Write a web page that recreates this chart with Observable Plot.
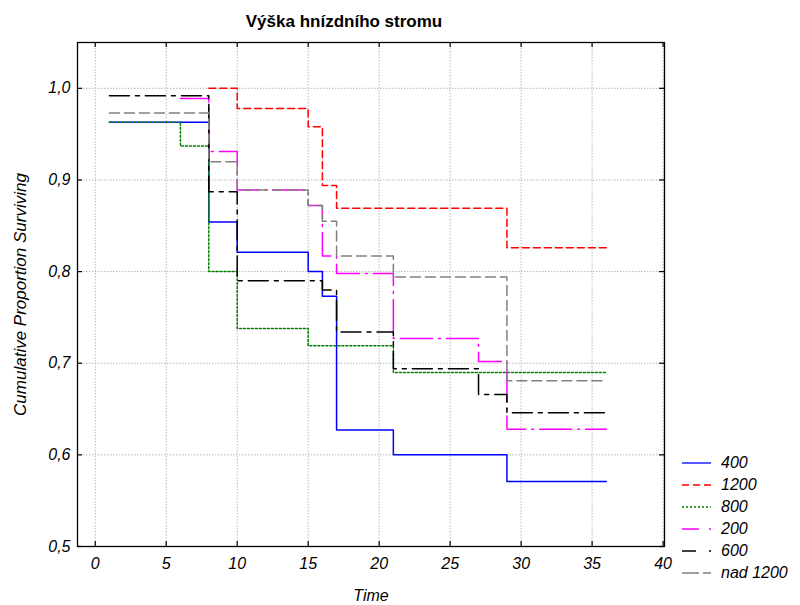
<!DOCTYPE html>
<html>
<head>
<meta charset="utf-8">
<script src="https://cdn.jsdelivr.net/npm/d3@7"></script>
<script src="https://cdn.jsdelivr.net/npm/@observablehq/plot@0.6"></script>
<style>
  body { margin: 0; background: #fff; }
  #wrap { position: relative; width: 800px; height: 605px; font-family: "Liberation Sans", Arial, sans-serif; }
  #legend { position: absolute; left: 682px; top: 452px; }
  .row { display: flex; align-items: center; height: 22px; }
  .row span { font-size: 16px; font-style: italic; margin-left: 9px; color: #000; }
</style>
</head>
<body>
<div id="wrap"><div id="chart"></div><div id="legend"></div></div>
<script>
// ---- data ----
const seriesNames = ["400", "1200", "800", "200", "600", "nad 1200"];
const times400 = [1, 8, 10, 15, 16, 17, 21, 29, 36];
const surv400  = [0.963, 0.854, 0.821, 0.800, 0.773, 0.627, 0.600, 0.571, 0.571];
const times1200 = [8, 10, 15, 16, 17, 29, 36];
const surv1200  = [1.000, 0.978, 0.958, 0.894, 0.869, 0.826, 0.826];
const times800 = [1, 6, 8, 10, 15, 21, 36];
const surv800  = [0.963, 0.937, 0.800, 0.738, 0.719, 0.690, 0.690];
const times200 = [6, 8, 10, 15, 16, 17, 21, 27, 29, 36];
const surv200  = [0.989, 0.931, 0.889, 0.872, 0.817, 0.798, 0.727, 0.702, 0.628, 0.628];
const times600 = [1, 8, 10, 16, 17, 21, 27, 29, 36];
const surv600  = [0.992, 0.887, 0.790, 0.780, 0.734, 0.694, 0.666, 0.646, 0.646];
const timesNad = [1, 8, 10, 15, 16, 17, 21, 29, 36];
const survNad  = [0.973, 0.920, 0.889, 0.872, 0.855, 0.817, 0.794, 0.681, 0.681];
const xTicks = [0, 5, 10, 15, 20, 25, 30, 35, 40];
const yTicks = [0.5, 0.6, 0.7, 0.8, 0.9, 1.0];
const titleText = "Výška hnízdního stromu";
const xLabel = "Time";
const yLabel = "Cumulative Proportion Surviving";

// ---- styles ----
const styles = {
  "400":      {stroke: "#0000ff", dash: null,        legendDash: null},
  "1200":     {stroke: "#ff0000", dash: "7,4",       legendDash: "7,4"},
  "800":      {stroke: "#008000", dash: "2,2",       legendDash: "2,2"},
  "200":      {stroke: "#ff00ff", dash: "32,6,2,6",  legendDash: "17,10,2,10"},
  "600":      {stroke: "#000000", dash: "20,6,4,6",  legendDash: "14,13,2,13"},
  "nad 1200": {stroke: "#808080", dash: "10,5",      legendDash: "17,4"}
};

const seriesData = {
  "400": [times400, surv400],
  "1200": [times1200, surv1200],
  "800": [times800, surv800],
  "200": [times200, surv200],
  "600": [times600, surv600],
  "nad 1200": [timesNad, survNad]
};
const rows = (name) => seriesData[name][0].map((t, i) => ({t, v: seriesData[name][1][i], name}));

const W = 800, H = 605;
const mL = 77, mR = 136, mT = 42, mB = 59;
const fw = W - mL - mR, fh = H - mT - mB;

const fmt = d => d.toFixed(1).replace(".", ",");

const marks = [
  Plot.ruleX(xTicks, {stroke: "#b8b8b8", strokeDasharray: "1.5,1.5"}),
  Plot.ruleY(yTicks, {stroke: "#b8b8b8", strokeDasharray: "1.5,1.5"}),
  ...seriesNames.map(name => Plot.line(rows(name), {
    x: "t", y: "v", curve: "step-after",
    stroke: styles[name].stroke,
    strokeDasharray: styles[name].dash,
    strokeWidth: 1.5
  })),
  Plot.frame({stroke: "#000", strokeWidth: 1.3}),
  // inner ticks
  Plot.tickX(xTicks, {x: d => d, insetTop: fh - 5, stroke: "#000", strokeWidth: 1.2}),
  Plot.tickX(xTicks, {x: d => d, insetBottom: fh - 5, stroke: "#000", strokeWidth: 1.2}),
  Plot.tickY(yTicks, {y: d => d, insetRight: fw - 5, stroke: "#000", strokeWidth: 1.2}),
  Plot.tickY(yTicks, {y: d => d, insetLeft: fw - 5, stroke: "#000", strokeWidth: 1.2}),
  Plot.axisX({ticks: xTicks, tickSize: 0, tickPadding: 11, fontSize: 16, fontStyle: "italic", label: null, tickFormat: d => String(d)}),
  Plot.axisY({ticks: yTicks, tickSize: 0, tickPadding: 7, fontSize: 16, fontStyle: "italic", label: null, tickFormat: fmt}),
  Plot.text([titleText], {frameAnchor: "top", dx: -27, dy: -21, fontSize: 17, fontWeight: "bold", textAnchor: "middle", lineAnchor: "middle"}),
  Plot.text([xLabel], {frameAnchor: "bottom", dy: 49, fontSize: 16, fontStyle: "italic", textAnchor: "middle", lineAnchor: "middle"}),
  Plot.text([yLabel], {frameAnchor: "left", dx: -57, rotate: -90, fontSize: 17, fontStyle: "italic", textAnchor: "middle", lineAnchor: "middle"})
];

const chart = Plot.plot({
  width: W, height: H,
  marginLeft: mL, marginRight: mR, marginTop: mT, marginBottom: mB,
  x: {domain: [-1.25, 40.1], axis: null},
  y: {domain: [0.5, 1.05], axis: null},
  style: {fontFamily: '"Liberation Sans", Arial, sans-serif', color: "#000", background: "#fff"},
  marks
});
document.getElementById("chart").appendChild(chart);

// legend
const legend = d3.select("#legend");
seriesNames.forEach(name => {
  const row = legend.append("div").attr("class", "row");
  const svg = row.append("svg").attr("width", 30).attr("height", 22);
  svg.append("line").attr("x1", 0).attr("x2", 29).attr("y1", 11).attr("y2", 11)
    .attr("stroke", styles[name].stroke).attr("stroke-width", 1.3)
    .attr("stroke-dasharray", styles[name].legendDash);
  row.append("span").text(name);
});
</script>
</body>
</html>
